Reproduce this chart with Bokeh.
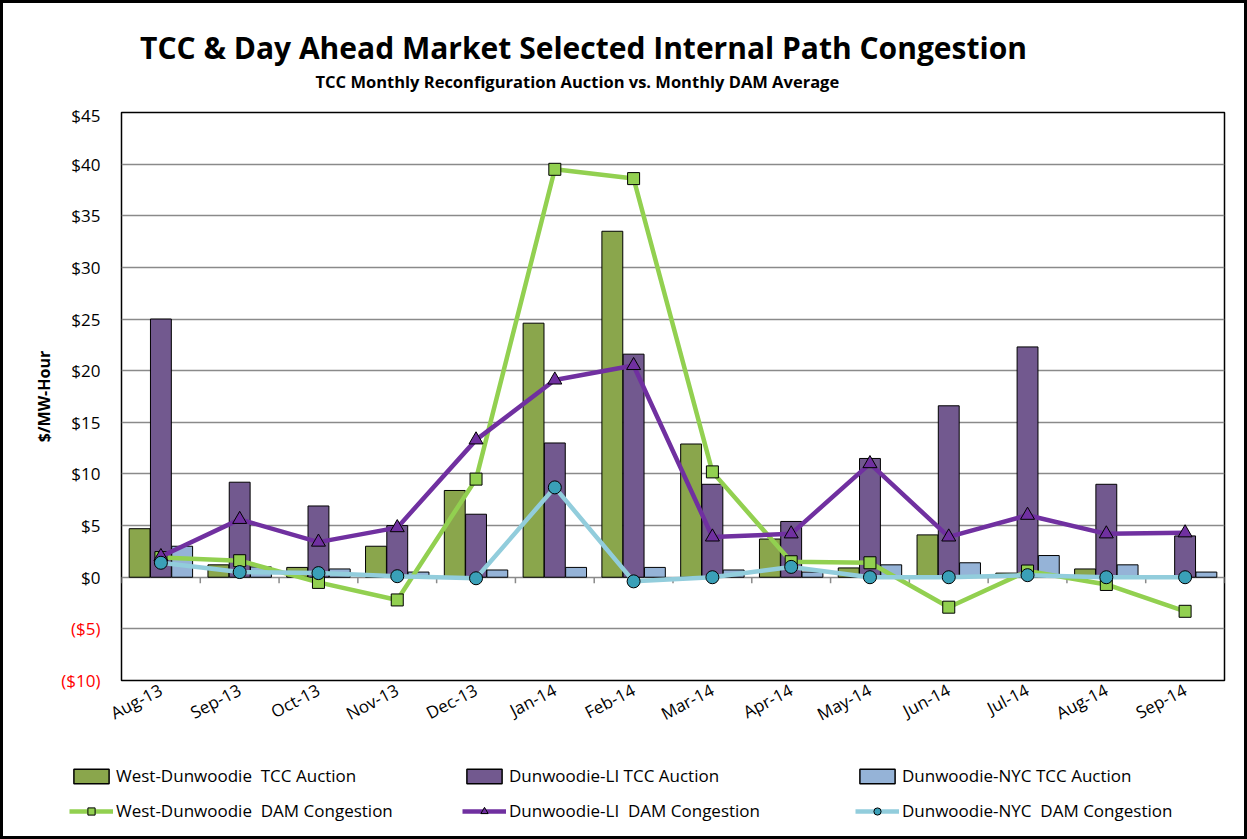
from bokeh.plotting import figure
from bokeh.layouts import column
from bokeh.models import (ColumnDataSource, FactorRange, Range1d, FixedTicker, LinearAxis,
                          Legend, LegendItem, Label)
from bokeh.transform import dodge
from bokeh.embed import file_html
from bokeh.resources import INLINE

months = ["Aug-13", "Sep-13", "Oct-13", "Nov-13", "Dec-13", "Jan-14", "Feb-14",
          "Mar-14", "Apr-14", "May-14", "Jun-14", "Jul-14", "Aug-14", "Sep-14"]
wd_tcc = [4.7, 1.2, 0.95, 3.0, 8.4, 24.6, 33.5, 12.9, 3.7, 0.9, 4.1, 0.4, 0.8, 0.1]
li_tcc = [25.0, 9.2, 6.9, 5.0, 6.1, 13.0, 21.6, 9.0, 5.4, 11.5, 16.6, 22.3, 9.0, 4.0]
nyc_tcc = [3.0, 1.0, 0.8, 0.5, 0.7, 0.95, 0.95, 0.7, 0.5, 1.2, 1.4, 2.1, 1.2, 0.5]
wd_dam = [1.9, 1.6, -0.5, -2.2, 9.5, 39.5, 38.6, 10.2, 1.5, 1.4, -2.9, 0.6, -0.7, -3.3]
li_dam = [2.0, 5.6, 3.4, 4.8, 13.3, 19.1, 20.5, 3.9, 4.2, 11.0, 3.9, 6.0, 4.2, 4.3]
nyc_dam = [1.4, 0.5, 0.4, 0.1, -0.1, 8.7, -0.4, 0.0, 1.0, 0.0, 0.0, 0.2, 0.0, 0.0]

y_ticks = [-10, -5, 0, 5, 10, 15, 20, 25, 30, 35, 40, 45]
y_tick_labels = ["($10)", "($5)", "$0", "$5", "$10", "$15", "$20", "$25", "$30", "$35", "$40", "$45"]

title_text = "TCC & Day Ahead Market Selected Internal Path Congestion"
subtitle_text = "TCC Monthly Reconfiguration  Auction vs. Monthly DAM Average"
y_label = "$/MW-Hour"
series_names = ["West-Dunwoodie  TCC Auction", "Dunwoodie-LI TCC Auction",
                "Dunwoodie-NYC TCC Auction", "West-Dunwoodie  DAM Congestion",
                "Dunwoodie-LI  DAM Congestion", "Dunwoodie-NYC  DAM Congestion"]

FONT = "Open Sans"
W = 1241
C_WD_BAR, C_LI_BAR, C_NYC_BAR = "#8aa64c", "#72598f", "#95b3d7"
C_WD_LINE, C_LI_LINE, C_NYC_LINE = "#92d050", "#7030a0", "#92cddc"
C_NYC_MARK = "#3aa0b8"


def blank_fig(h):
    f = figure(width=W, height=h, x_range=Range1d(0, W), y_range=Range1d(h, 0),
               output_backend="svg", toolbar_location=None,
               x_axis_location=None, y_axis_location=None,
               min_border_left=0, min_border_right=0, min_border_top=0, min_border_bottom=0)
    f.frame_align = False
    f.grid.visible = False
    f.outline_line_color = None
    f.background_fill_color = "white"
    f.border_fill_color = "white"
    return f


# ---------- title band ----------
tf = blank_fig(100)
tf.add_layout(Label(x=580, y=44, text=title_text, text_align="center",
                    text_baseline="middle", text_font=FONT, text_font_size="30px",
                    text_font_style="bold", text_color="black"))
tf.add_layout(Label(x=576, y=78, text=subtitle_text, text_align="center",
                    text_baseline="middle", text_font=FONT, text_font_size="16.5px",
                    text_font_style="bold", text_color="black"))

# ---------- main chart ----------
src = ColumnDataSource(dict(month=months, wd_tcc=wd_tcc, li_tcc=li_tcc, nyc_tcc=nyc_tcc,
                            wd_dam=wd_dam, li_dam=li_dam, nyc_dam=nyc_dam))

p = figure(x_range=FactorRange(factors=months, range_padding=0),
           y_range=Range1d(y_ticks[0], y_ticks[-1]),
           width=W, height=660, output_backend="svg", toolbar_location=None,
           min_border_left=118, min_border_right=20, min_border_top=9, min_border_bottom=83)
p.frame_align = False
p.background_fill_color = "white"
p.border_fill_color = "white"
p.outline_line_color = "black"
p.outline_line_width = 1.5

p.xgrid.grid_line_color = None
p.ygrid.ticker = FixedTicker(ticks=y_ticks)
p.ygrid.grid_line_color = "#8a8a8a"
p.ygrid.grid_line_width = 1.5

pos_ticks = [v for v in y_ticks if v >= 0]
neg_ticks = [v for v in y_ticks if v < 0]
lab = dict(zip(y_ticks, y_tick_labels))


def style_axis(ax):
    ax.axis_line_color = None
    ax.major_tick_line_color = None
    ax.minor_tick_line_color = None
    ax.major_tick_out = 0
    ax.major_tick_in = 0
    ax.major_label_text_font = FONT
    ax.major_label_text_font_size = "17px"


ya = p.yaxis[0]
ya.ticker = FixedTicker(ticks=pos_ticks)
ya.major_label_overrides = {v: lab[v] for v in pos_ticks}
style_axis(ya)
ya.major_label_standoff = 21
ya.major_label_text_color = "black"

neg_axis = LinearAxis(ticker=FixedTicker(ticks=neg_ticks),
                      major_label_overrides={v: lab[v] for v in neg_ticks})
style_axis(neg_axis)
neg_axis.major_label_standoff = -32
neg_axis.major_label_text_color = "red"
neg_axis.axis_label = y_label
neg_axis.axis_label_text_font = FONT
neg_axis.axis_label_text_font_size = "16px"
neg_axis.axis_label_text_font_style = "bold"
neg_axis.axis_label_text_color = "black"
neg_axis.axis_label_standoff = 3
p.add_layout(neg_axis, "left")

xa = p.xaxis[0]
xa.axis_line_color = None
xa.major_tick_line_color = None
xa.major_tick_out = 0
xa.major_tick_in = 0
xa.major_label_orientation = 0.48
xa.major_label_standoff = 8
xa.major_label_text_font = FONT
xa.major_label_text_font_size = "17px"
xa.major_label_text_color = "black"

# category boundary tick marks hanging from the zero line
bounds = list(range(len(months) + 1))
p.ray(x=bounds, y=[0] * len(bounds), length=6, length_units="screen",
      angle=-1.5708, line_color="#8a8a8a", line_width=1.5)

bw = 0.265
p.vbar(x=dodge("month", -0.27, range=p.x_range), top="wd_tcc", width=bw, source=src,
       fill_color=C_WD_BAR, line_color="black", line_width=1)
p.vbar(x=dodge("month", 0.0, range=p.x_range), top="li_tcc", width=bw, source=src,
       fill_color=C_LI_BAR, line_color="black", line_width=1)
p.vbar(x=dodge("month", 0.27, range=p.x_range), top="nyc_tcc", width=bw, source=src,
       fill_color=C_NYC_BAR, line_color="black", line_width=1)

p.line(x="month", y="wd_dam", source=src, line_color=C_WD_LINE, line_width=4.5)
p.scatter(x="month", y="wd_dam", source=src, marker="square", size=12,
          fill_color=C_WD_LINE, line_color="black", line_width=1)
p.line(x="month", y="li_dam", source=src, line_color=C_LI_LINE, line_width=4.5)
p.scatter(x="month", y="li_dam", source=src, marker="triangle", size=14,
          fill_color=C_LI_LINE, line_color="black", line_width=1)
p.line(x="month", y="nyc_dam", source=src, line_color=C_NYC_LINE, line_width=4.5)
p.scatter(x="month", y="nyc_dam", source=src, marker="circle", size=13,
          fill_color=C_NYC_MARK, line_color="black", line_width=1)

# ---------- legend band ----------
lf = blank_fig(73)
nan = float("nan")
proxy = ColumnDataSource(dict(x=[nan], y=[nan]))
g_wd = lf.vbar(x="x", top="y", width=1, source=proxy, fill_color=C_WD_BAR,
               line_color="black", line_width=1.5)
g_li = lf.vbar(x="x", top="y", width=1, source=proxy, fill_color=C_LI_BAR,
               line_color="black", line_width=1.5)
g_nyc = lf.vbar(x="x", top="y", width=1, source=proxy, fill_color=C_NYC_BAR,
                line_color="black", line_width=1.5)
gl_wd = lf.line(x="x", y="y", source=proxy, line_color=C_WD_LINE, line_width=4.5)
gm_wd = lf.scatter(x="x", y="y", source=proxy, marker="square", fill_color=C_WD_LINE,
                   line_color="black")
gl_li = lf.line(x="x", y="y", source=proxy, line_color=C_LI_LINE, line_width=4.5)
gm_li = lf.scatter(x="x", y="y", source=proxy, marker="triangle", fill_color=C_LI_LINE,
                   line_color="black")
gl_nyc = lf.line(x="x", y="y", source=proxy, line_color=C_NYC_LINE, line_width=4.5)
gm_nyc = lf.scatter(x="x", y="y", source=proxy, marker="circle", fill_color=C_NYC_MARK,
                    line_color="black")

items = [
    LegendItem(label=series_names[0], renderers=[g_wd]),
    LegendItem(label=series_names[3], renderers=[gl_wd, gm_wd]),
    LegendItem(label=series_names[1], renderers=[g_li]),
    LegendItem(label=series_names[4], renderers=[gl_li, gm_li]),
    LegendItem(label=series_names[2], renderers=[g_nyc]),
    LegendItem(label=series_names[5], renderers=[gl_nyc, gm_nyc]),
]
legend = Legend(items=items, location=(66, 14), orientation="vertical", ncols=3,
                padding=0, margin=0, spacing=12, glyph_width=44, glyph_height=18,
                label_standoff=3, label_width=334, label_height=22,
                label_text_font=FONT, label_text_font_size="17px",
                label_text_color="black",
                border_line_color=None, background_fill_alpha=0)
lf.add_layout(legend, "center")

layout = column(tf, p, lf, spacing=0)
layout.styles = {"border": "3px solid black"}

open("out.html", "w").write(file_html(layout, INLINE))
